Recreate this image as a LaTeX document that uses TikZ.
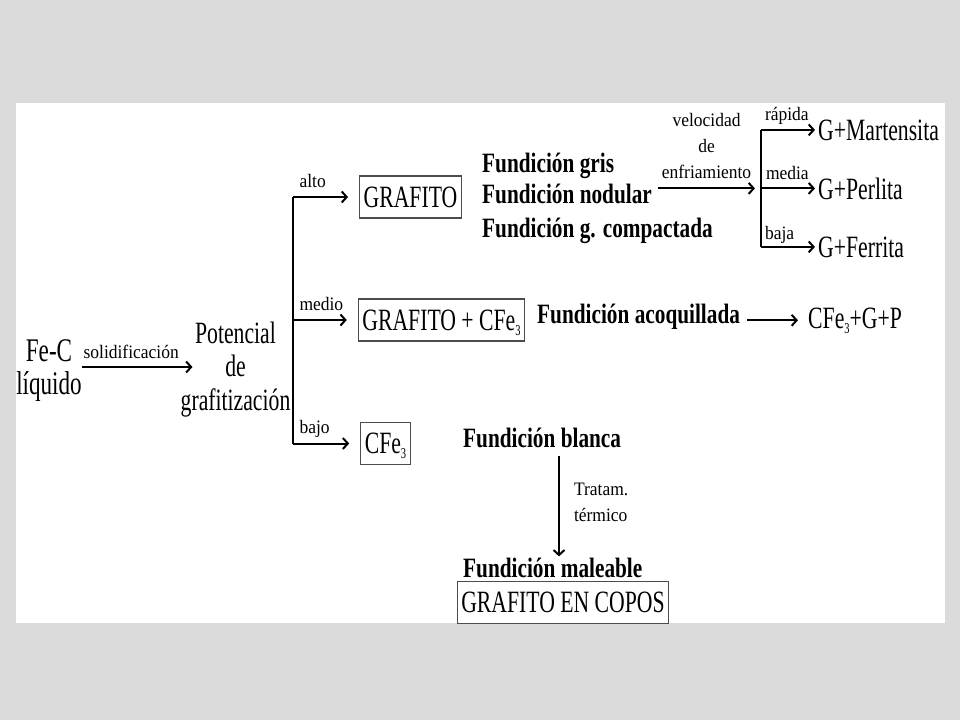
\documentclass[tikz,border=0pt]{standalone}
\usepackage{fontspec}
\setmainfont{Liberation Serif}
\newfontfamily\bigfont{Liberation Serif}[FakeStretch=0.70]
\newfontfamily\castfont{Liberation Serif}[FakeStretch=0.76]
\newfontfamily\condfont{Liberation Serif}[FakeStretch=0.92]
\newcommand\subnum[1]{\raisebox{-5pt}{\fontsize{15}{15}\selectfont #1}}
\usetikzlibrary{arrows.meta}
\definecolor{slidegray}{RGB}{219,219,219}
\tikzstyle{phase} = [draw=black!70,
                    line width=1.2pt,
                    inner xsep=4pt,
                    text height=20.5pt,
                    text depth=0pt,
                    minimum height=42pt,
                    font=\bigfont\fontsize{31}{33}\selectfont]
\tikzstyle{product} = [inner sep=0pt,
                      font=\bigfont\fontsize{31}{33.5}\selectfont]
\tikzstyle{casting} = [inner sep=0pt,
                      font=\castfont\bfseries\fontsize{28}{32}\selectfont]
\tikzstyle{cond} = [inner sep=0pt,
                   font=\condfont\fontsize{19}{26}\selectfont]
\tikzstyle{flow} = [line width=2pt,
                   -{Straight Barb[length=5pt,width=11pt]}]
\begin{document}
\begin{tikzpicture}[x=1pt,y=-1pt]
    \fill[slidegray] (0,0) rectangle (960,720);
    \fill[white] (16,103) rectangle (945,623);

    \node (liq) [product, align=center, font=\bigfont\fontsize{33}{33}\selectfont] at (49,371) {Fe-C\\líquido};
    \node (pot) [product, align=center] at (235.5,369.5) {Potencial\\de\\grafitización};
    \draw[flow, shorten >=-12pt] ([yshift=4pt]liq.east) -- ([yshift=4pt]liq.east -| pot.west)
      node [cond, midway, anchor=base, yshift=9pt] {solidificación};

    \node (grafito) [phase] at (410.5,197) {GRAFITO};
    \node (grafcfe) [phase] at (441.5,320) {GRAFITO + CFe\subnum{3}};
    \node (cfe) [phase] at (385.5,443.5) {CFe\subnum{3}};
    \coordinate (fork) at ([xshift=2pt]pot.east |- grafito.west);
    \draw[line width=2pt] (fork) -- (cfe.west -| fork);
    \draw[flow, shorten >=11pt] (fork) -- (grafito.west)
      node [cond, pos=0, anchor=base west, xshift=6pt, yshift=10pt] {alto};
    \draw[flow, shorten >=11pt] (grafcfe.west -| fork) -- (grafcfe.west)
      node [cond, pos=0, anchor=base west, xshift=6pt, yshift=10pt] {medio};
    \draw[flow, shorten >=11pt] (cfe.west -| fork) -- (cfe.west)
      node [cond, pos=0, anchor=base west, xshift=6pt, yshift=10pt] {bajo};

    % grafito
    \node (gris) [casting, anchor=base west] at (482,172) {Fundición gris};
    \node (nodular) [casting, anchor=base west] at (482,203) {Fundición nodular};
    \node (compacta) [casting, anchor=base west] at (482,237) {Fundición g. compactada};
    \node (mart) [product, anchor=base west] at (818,140) {G+Martensita};
    \node (perl) [product, anchor=base west] at (818,199) {G+Perlita};
    \node (ferr) [product, anchor=base west] at (818,257) {G+Ferrita};
    \coordinate (fork2) at (761,0 |- perl.west);
    \draw[flow, shorten <=6pt, shorten >=6pt] (nodular.east |- fork2) -- (fork2)
      node [cond, align=center, midway, anchor=south, yshift=9pt] {velocidad\\de\\enfriamiento};
    \draw[line width=2pt] (mart.west -| fork2) -- (ferr.west -| fork2);
    \draw[flow, shorten >=3pt] (mart.west -| fork2) -- (mart.west)
      node [cond, pos=0, anchor=base west, xshift=3pt, yshift=9pt] {rápida};
    \draw[flow, shorten >=3pt] (fork2) -- (perl.west)
      node [cond, pos=0, anchor=base west, xshift=4pt, yshift=9pt] {media};
    \draw[flow, shorten >=3pt] (ferr.west -| fork2) -- (ferr.west)
      node [cond, pos=0, anchor=base west, xshift=3pt, yshift=7pt] {baja};

    % grafito + cementita
    \node (acoq) [casting, anchor=base west] at (537,323) {Fundición acoquillada};
    \node (cfegp) [product, anchor=base west] at (808,328) {CFe\subnum{3}+G+P};
    \draw[flow, shorten <=7pt, shorten >=10pt] (acoq.east |- cfegp.west) -- (cfegp.west);

    % cementita
    \node (blanca) [casting, anchor=base west] at (463,447) {Fundición blanca};
    \node (maleable) [casting, anchor=base west] at (463,577) {Fundición maleable};
    \node (copos) [phase] at (563,602.5) {GRAFITO EN COPOS};
    \draw[flow, shorten <=8pt, shorten >=1pt] ([xshift=96pt]blanca.south west) -- ([xshift=96pt]blanca.south west |- maleable.north)
      node [cond, align=left, midway, anchor=west, xshift=14pt] {Tratam.\\térmico};
\end{tikzpicture}
\end{document}
